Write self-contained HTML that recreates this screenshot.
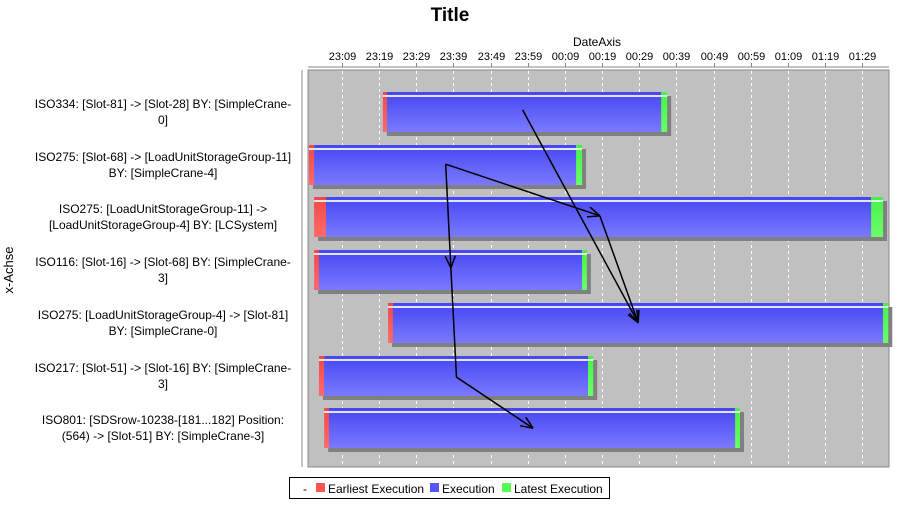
<!DOCTYPE html>
<html><head><meta charset="utf-8"><style>
body{margin:0;background:#fff;font-family:"Liberation Sans",sans-serif}
svg text{font-family:"Liberation Sans","DejaVu Sans",sans-serif}
</style></head><body>
<svg id="c" width="900" height="500" xmlns="http://www.w3.org/2000/svg">
<defs>
<linearGradient id="gb" x1="0" y1="0" x2="0" y2="1"><stop offset="0" stop-color="#4646f2"/><stop offset="1" stop-color="#7a7aff"/></linearGradient>
<linearGradient id="gr" x1="0" y1="0" x2="0" y2="1"><stop offset="0" stop-color="#f24646"/><stop offset="1" stop-color="#ff6a6a"/></linearGradient>
<linearGradient id="gg" x1="0" y1="0" x2="0" y2="1"><stop offset="0" stop-color="#46f246"/><stop offset="1" stop-color="#6aff6a"/></linearGradient>
</defs>
<text x="450" y="21" text-anchor="middle" font-size="19" font-weight="bold">Title</text>
<text x="597" y="46" text-anchor="middle" font-size="12">DateAxis</text>
<text transform="translate(13,270) rotate(-90)" text-anchor="middle" font-size="13">x-Achse</text>
<rect x="308" y="70" width="581" height="397" fill="#c0c0c0" stroke="#888"/>
<line x1="308" y1="67" x2="889" y2="67" stroke="#888"/>
<line x1="302" y1="70" x2="302" y2="467" stroke="#888"/>
<g id="grid"></g><g id="ticks"></g><g id="bars"></g><g id="cats"></g><g id="arrows"></g>
<g>
<rect x="289.5" y="477.5" width="320" height="21" fill="#fff" stroke="#000"/>
<text x="303" y="493" font-size="12">-</text>
<rect x="316" y="483" width="9" height="9" fill="#ff5555"/>
<text x="328" y="493" font-size="12">Earliest Execution</text>
<rect x="430" y="483" width="9" height="9" fill="#5555ff"/>
<text x="442" y="493" font-size="12">Execution</text>
<rect x="502" y="483" width="9" height="9" fill="#55ff55"/>
<text x="514" y="493" font-size="12">Latest Execution</text>
</g>
</svg>
<script>
const tickLabels=["23:09","23:19","23:29","23:39","23:49","23:59","00:09","00:19","00:29","00:39","00:49","00:59","01:09","01:19","01:29"];
const tickMinutes=[0,10,20,30,40,50,60,70,80,90,100,110,120,130,140];
const categories=[
["ISO334: [Slot-81] -> [Slot-28] BY: [SimpleCrane-","0]"],
["ISO275: [Slot-68] -> [LoadUnitStorageGroup-11]","BY: [SimpleCrane-4]"],
["ISO275: [LoadUnitStorageGroup-11] ->","[LoadUnitStorageGroup-4] BY: [LCSystem]"],
["ISO116: [Slot-16] -> [Slot-68] BY: [SimpleCrane-","3]"],
["ISO275: [LoadUnitStorageGroup-4] -> [Slot-81]","BY: [SimpleCrane-0]"],
["ISO217: [Slot-51] -> [Slot-16] BY: [SimpleCrane-","3]"],
["ISO801: [SDSrow-10238-[181...182]  Position:","(564) -> [Slot-51] BY: [SimpleCrane-3]"]];
// minutes after 23:09
const earliestStart=[11.0,-8.9,-7.5,-7.5,12.4,-6.2,-4.8];
const execStart=[12.1,-7.5,-4.3,-6.2,13.7,-4.8,-3.5];
const execEnd=[85.9,63.0,142.4,64.6,145.6,66.2,105.8];
const latestEnd=[87.5,64.6,145.6,65.9,147.0,67.6,107.1];
// arrows: [fromMinute, fromRowPos, toMinute, toRowPos]
const arrowMin=[[48.6,-0.04,79.7,4.0],[27.9,0.99,69.4,1.97],[69.4,1.97,79.7,4.0],[27.9,0.99,29.3,2.96],[29.3,2.96,30.8,5.03],[30.8,5.03,51.4,6.0]];
const arrowHead=[true,true,true,true,false,true];
const X0=308,X1=889,M0=-9.15,M1=147.2,Y0=70,Y1=467;
const xs=m=>X0+(m-M0)/(M1-M0)*(X1-X0);
const band=52.7,firstTop=92,h=40;
const yTop=i=>firstTop+band*i;
const rowY=p=>firstTop+h/2+band*p;
const NS="http://www.w3.org/2000/svg";
function mk(p,t,a){const e=document.createElementNS(NS,t);for(const k in a)e.setAttribute(k,a[k]);p.appendChild(e);return e;}
const grid=document.getElementById('grid'),ticks=document.getElementById('ticks');
tickMinutes.forEach((m,i)=>{const x=Math.round(xs(m))+0.5;
const g=mk(grid,'line',{x1:x,y1:Y0+1,x2:x,y2:Y1-1,stroke:'#fff','stroke-dasharray':'3,3','stroke-width':1});


const t=mk(ticks,'line',{x1:x,y1:63,x2:x,y2:67,stroke:'#888'});


const l=mk(ticks,'text',{x:x,y:60,'text-anchor':'middle','font-size':11});
l.textContent=tickLabels[i];

});
const bars=document.getElementById('bars'),cats=document.getElementById('cats');
function seg(x1,x2,y,fill,name){
const r=mk(bars,'rect',{x:x1,y:y,width:Math.max(0,x2-x1),height:h,fill:fill});


mk(bars,'rect',{x:x1,y:y+3,width:Math.max(0,x2-x1),height:2,fill:'#fff',opacity:0.85});}
categories.forEach((c,i)=>{const y=Math.round(yTop(i));
const a=xs(earliestStart[i]),b=xs(execStart[i]),e=xs(execEnd[i]),f=xs(latestEnd[i]);
const s=mk(bars,'rect',{x:a+4,y:y+4,width:f-a,height:h,fill:'#808080'});


seg(a,b,y,'url(#gr)','bar-earliest-execution');
seg(b,e,y,'url(#gb)','bar-execution');
seg(e,f,y,'url(#gg)','bar-latest-execution');
const cy=y+h/2;
c.forEach((ln,j)=>{const t=mk(cats,'text',{x:163,y:cy+4+j*16-(c.length-1)*8,'text-anchor':'middle','font-size':12});
t.textContent=ln;

});});
const ar=document.getElementById('arrows');
arrowMin.forEach((a,i)=>{const x1=xs(a[0]),y1=rowY(a[1]),x2=xs(a[2]),y2=rowY(a[3]);
const l=mk(ar,'line',{x1:x1,y1:y1,x2:x2,y2:y2,stroke:'#000','stroke-width':1.5});


if(arrowHead[i]){const ang=Math.atan2(y2-y1,x2-x1),L=13;
[0.4,-0.4].forEach(d=>{mk(ar,'line',{x1:x2,y1:y2,x2:x2-L*Math.cos(ang+d),y2:y2-L*Math.sin(ang+d),stroke:'#000','stroke-width':1.5});});}});
</script>
</body></html>
